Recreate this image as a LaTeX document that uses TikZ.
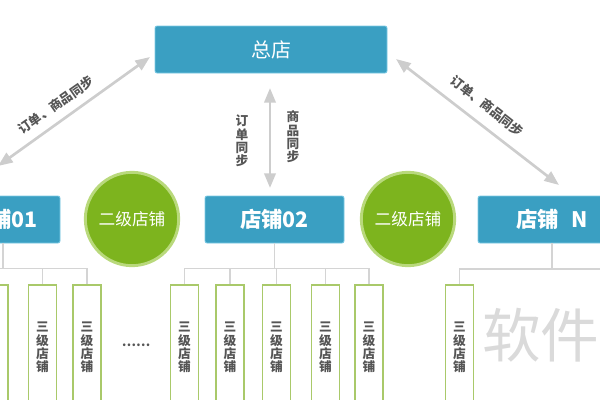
\documentclass[tikz,border=0pt]{standalone}
\usepackage{fontspec}
\setmainfont{Noto Sans CJK SC}
\usepackage{tikz}
\usetikzlibrary{arrows.meta}
\usepackage{xcolor}
\definecolor{boxblue}{HTML}{3A9FC2}
\definecolor{boxrim}{HTML}{7CCAE4}
\definecolor{ballgreen}{HTML}{7DB41E}
\definecolor{rimgreen}{HTML}{B9D97C}
\definecolor{leafgreen}{HTML}{A9C96A}
\definecolor{linegray}{HTML}{D4D4D4}
\definecolor{arrowgray}{HTML}{CDCDCD}
\definecolor{textgray}{HTML}{555555}
\definecolor{wmgray}{HTML}{DADADA}

\begin{document}
\begin{tikzpicture}[x=0.75pt,y=-0.75pt,
  shopbox/.style={fill=boxblue, draw=boxrim, line width=0.6pt, rounded corners=1.5pt, text=white, minimum height=35.25pt},
  ball/.style={circle, fill=ballgreen, draw=rimgreen, line width=2.2pt, minimum size=70pt, text=white, font=\fontsize{12.5}{14}\selectfont},
  leaf/.style={fill=white, draw=leafgreen, line width=1.2pt, minimum width=21pt, minimum height=93.75pt, text=textgray, align=center, font=\fontsize{9.5}{10}\selectfont\bfseries},
  bus/.style={draw=linegray, line width=0.8pt},
  sync/.style={draw=arrowgray, line width=2pt, <->, >={Triangle[length=11pt,width=8.5pt]}},
  note/.style={text=textgray, font=\fontsize{9.5}{10}\selectfont\bfseries, inner sep=0pt}]
\clip (0,0) rectangle (600,400);

\node[shopbox, minimum width=174pt, font=\fontsize{15}{18}\selectfont] (v1) at (271,49.5) {总店};
\node[shopbox, minimum width=85.5pt, font=\fontsize{16}{18}\selectfont\bfseries] (v2) at (3,219.5) {店铺01};
\node[shopbox, minimum width=104.25pt, font=\fontsize{16}{18}\selectfont\bfseries] (v3) at (274.5,219.5) {店铺02};
\node[shopbox, minimum width=111pt, font=\fontsize{16}{18}\selectfont\bfseries] (v4) at (552,219.5) {店铺\hspace{0.6em}N};
\node[ball] (v5) at (132,219) {二级店铺};
\node[ball] (v6) at (408,219) {二级店铺};

\node[leaf] (v7) at (-6,347.5) {三\\级\\店\\铺};
\node[leaf] (v8) at (42.5,347.5) {三\\级\\店\\铺};
\node[leaf] (v9) at (87,347.5) {三\\级\\店\\铺};
\node[leaf] (v10) at (184.5,347.5) {三\\级\\店\\铺};
\node[leaf] (v11) at (230,347.5) {三\\级\\店\\铺};
\node[leaf] (v12) at (276.5,347.5) {三\\级\\店\\铺};
\node[leaf] (v13) at (325.5,347.5) {三\\级\\店\\铺};
\node[leaf] (v14) at (369,347.5) {三\\级\\店\\铺};
\node[leaf] (v15) at (459.5,347.5) {三\\级\\店\\铺};

\draw[bus] (v2.south) -- ++(0,26);
\draw[bus] (v7.north) -- ++(0,-16) -| (v9.north);
\draw[bus] (v8.north) -- ++(0,-16);
\draw[bus] (v3.south) -- ++(0,26);
\draw[bus] (v10.north) -- ++(0,-16) -| (v14.north);
\foreach \n in {v11,v12,v13}
  \draw[bus] (\n.north) -- ++(0,-16);
\coordinate (v20) at (620,269);
\draw[bus] (v15.north) |- (v20);
\draw[bus] (v4.south) -- ++(0,26);

\coordinate (v21) at (150,57);
\coordinate (v22) at (-2,166);
\coordinate (v23) at (396,59);
\coordinate (v24) at (559,185);
\coordinate (v25) at (270,88);
\coordinate (v26) at (270,188);
\draw[sync] (v21) -- (v22);
\draw[sync] (v23) -- (v24);
\draw[sync] (v25) -- (v26);
\node[note, rotate=35] (v27) at (56,105) {订单、商品同步};
\node[note, rotate=-38] (v28) at (487,106) {订单、商品同步};
\node[note, align=center] (v29) at (242,141) {订\\单\\同\\步};
\node[note, align=center] (v30) at (293,137) {商\\品\\同\\步};

\node[text=textgray, font=\fontsize{9.5}{10}\selectfont\bfseries] (v31) at (136,345) {……};
\node[text=wmgray, font=\fontsize{44}{48}\selectfont, anchor=west, inner sep=0pt] (v32) at (482,335) {软件};
\end{tikzpicture}
\end{document}
